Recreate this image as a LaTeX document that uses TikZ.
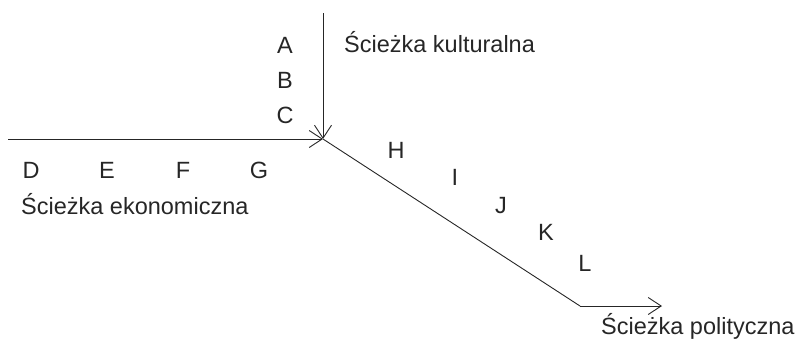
\documentclass[tikz,border=0pt]{standalone}
\usepackage{fontspec}
\setmainfont{Liberation Sans}
\usetikzlibrary{arrows.meta}
\begin{document}
\begin{tikzpicture}[x=1pt,y=-1pt,
  lbl/.style={inner sep=0pt,font=\fontsize{23.5pt}{28pt}\selectfont,text=black!85},
  conn/.style={draw=black!85,line width=0.9pt},
  arr/.style={conn,-{Straight Barb[length=13pt,width=17pt,line width=0.9pt]}}]
\useasboundingbox (0,0) rectangle (795,346);
\coordinate (top) at (323,13);
\coordinate (left) at (8,139);
\coordinate (hub) at (323,139);
\coordinate (bend) at (580,306);
\coordinate (end) at (662,306);
\draw[arr] (top) -- (hub);
\draw[arr] (left) -- (hub);
\draw[conn] (hub) -- (bend);
\draw[arr] (bend) -- (end);
\node[lbl] (A) at (285,45) {A};
\node[lbl] (B) at (285,80) {B};
\node[lbl] (C) at (285,115) {C};
\node[lbl,anchor=base west] (kult) at (344,52) {Ścieżka kulturalna};
\node[lbl] (D) at (31,170) {D};
\node[lbl] (E) at (107,170) {E};
\node[lbl] (F) at (183,170) {F};
\node[lbl] (G) at (259,170) {G};
\node[lbl,anchor=base west] (ekon) at (21,214) {Ścieżka ekonomiczna};
\node[lbl] (H) at (396,150) {H};
\node[lbl] (I) at (455,177) {I};
\node[lbl] (J) at (501,206) {J};
\node[lbl] (K) at (546,232) {K};
\node[lbl] (L) at (585,263) {L};
\node[lbl,anchor=base west] (pol) at (601,334) {Ścieżka polityczna};
\end{tikzpicture}
\end{document}
